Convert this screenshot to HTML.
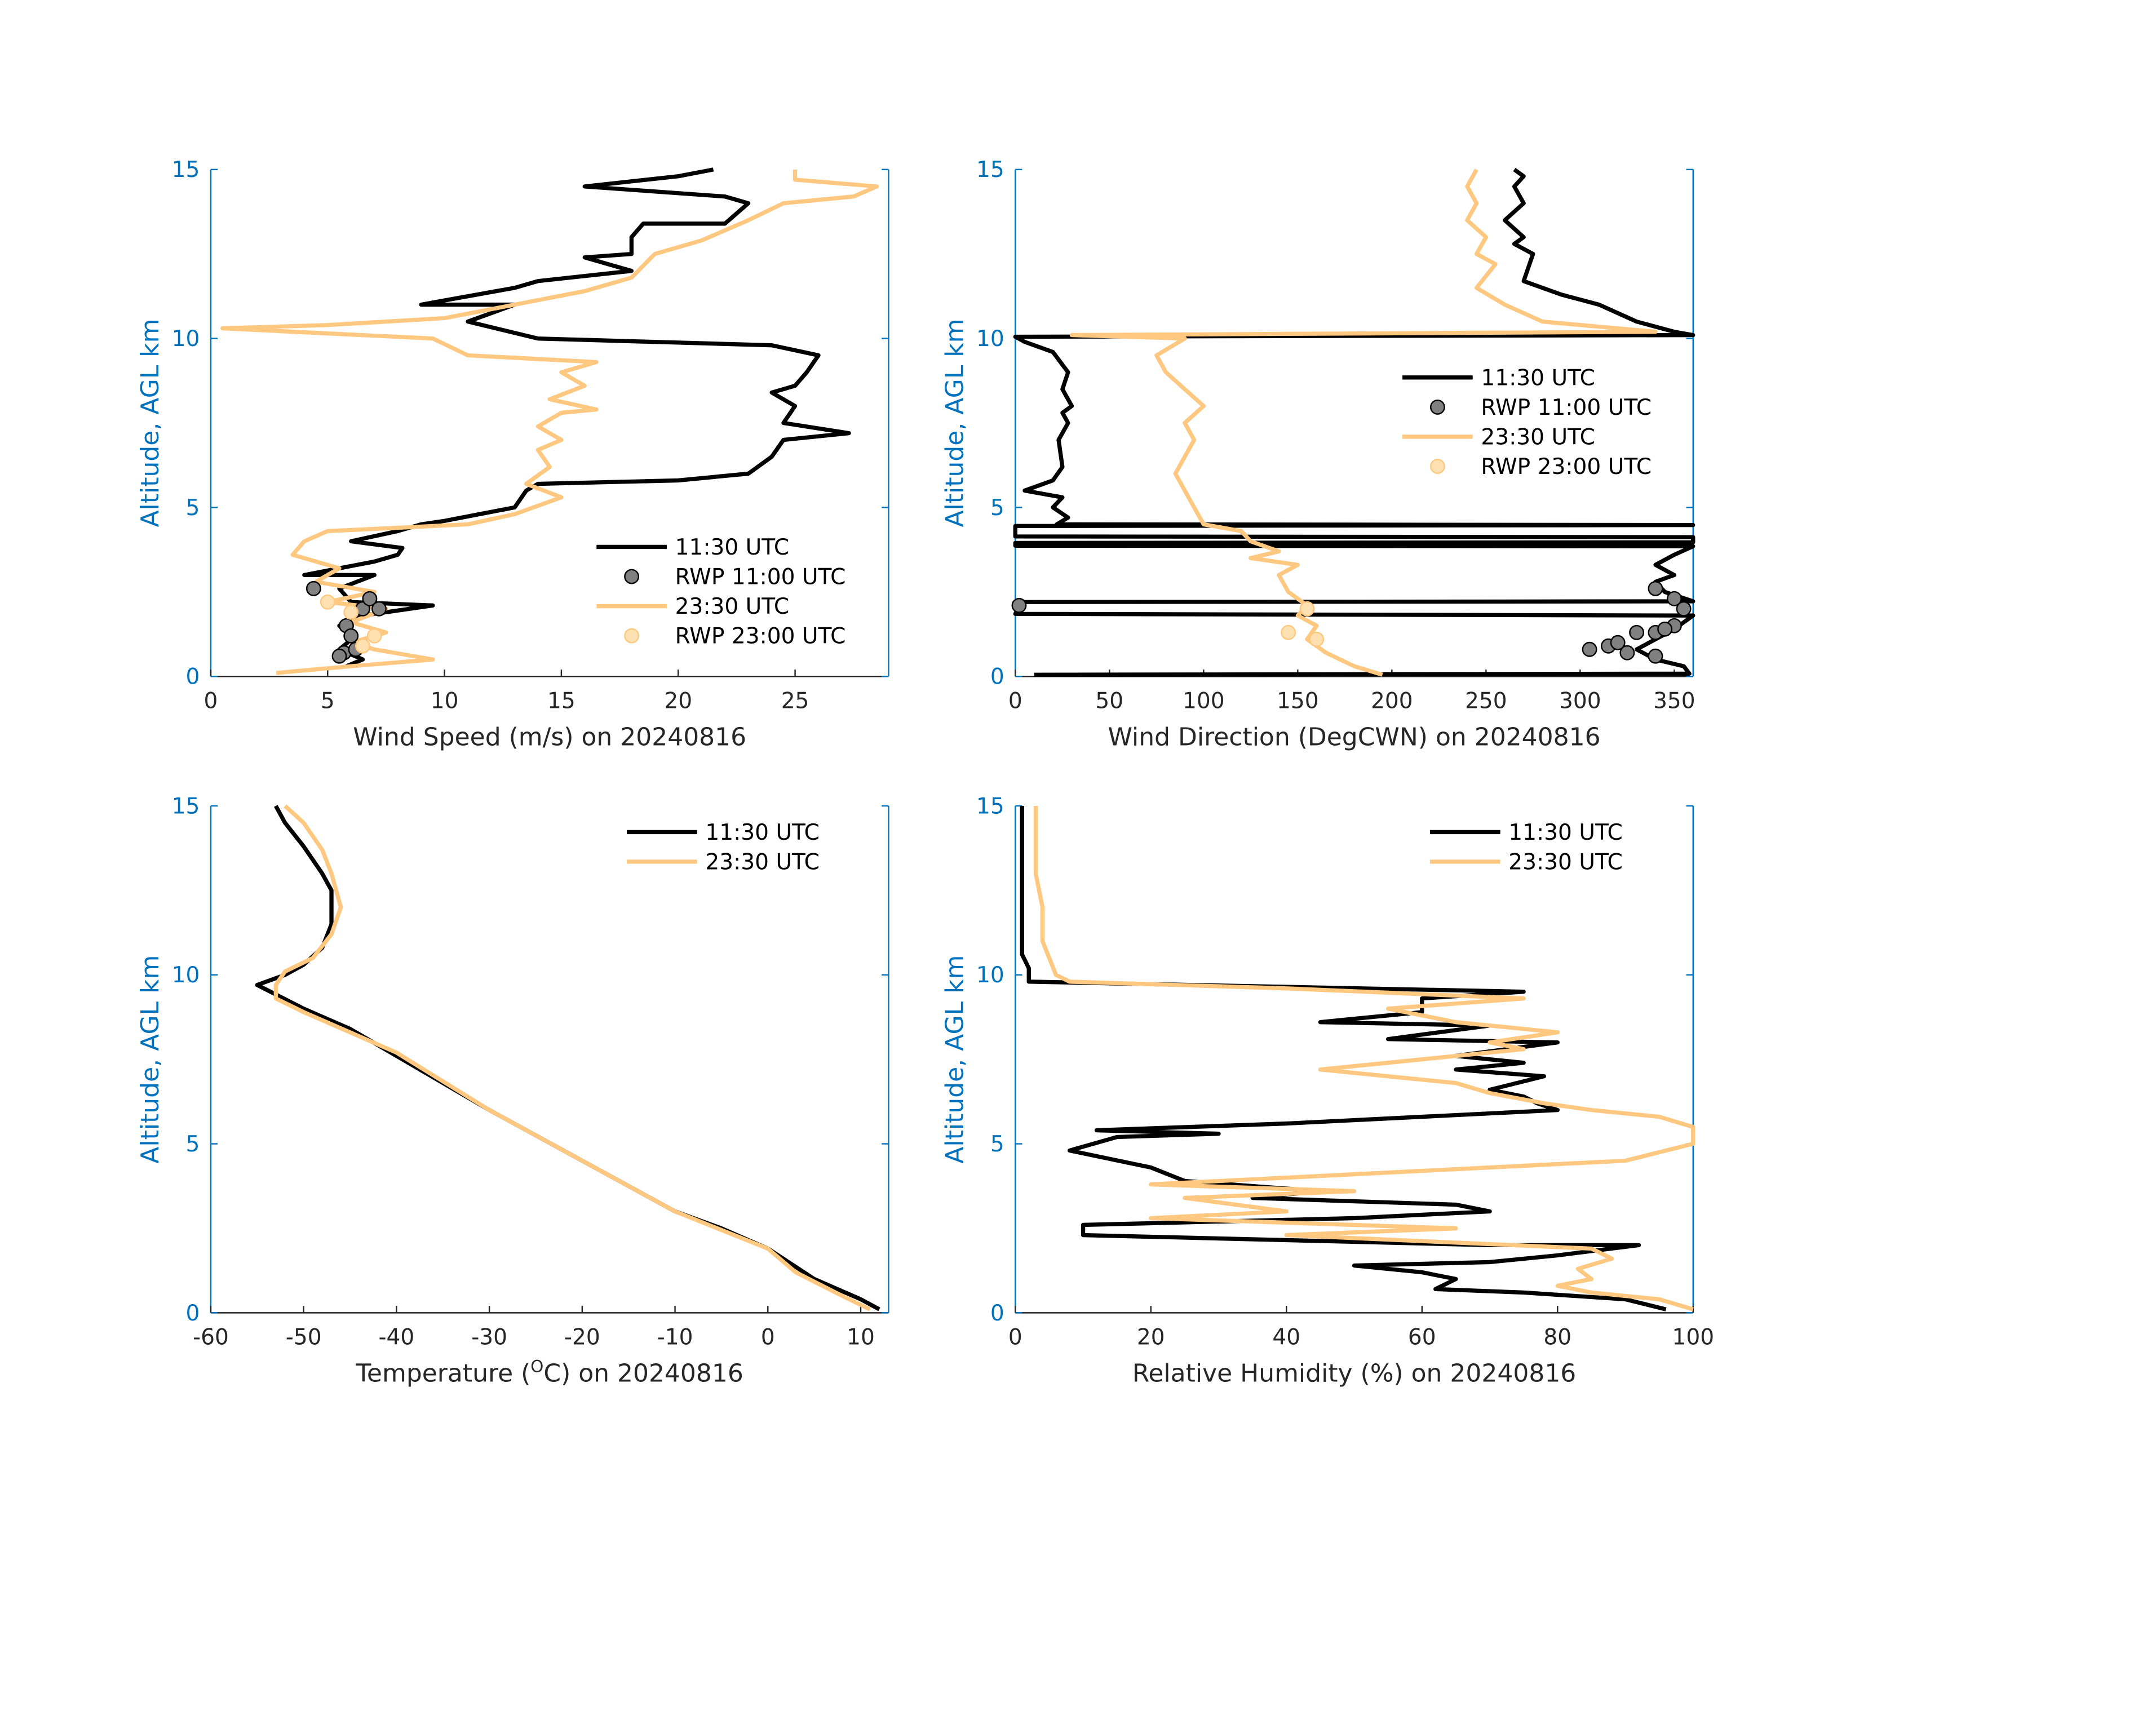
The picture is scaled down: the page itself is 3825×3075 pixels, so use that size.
<!DOCTYPE html>
<html><head><meta charset="utf-8"><style>
html,body{margin:0;padding:0;background:#fff}
svg{display:block}
text{font-family:"DejaVu Sans","Liberation Sans",sans-serif}
</style></head><body>
<svg id="fig" xmlns="http://www.w3.org/2000/svg" width="3825" height="3075" viewBox="0 0 1565 1258">
<rect width="1565" height="1258" fill="#fff"/>
</svg>
<script>
// ---------- data ----------
const wsBlackX=[5.8,6.5,5.5,6.2,5.5,6.5,9.5,6,5.5,7,4,5.5,7,8,8.2,6,8,9,10,13,13.5,14,20,23,24,24.5,27.3,24.5,25,24,25,25.5,26,24,14,11,13,9,13,14,18,16,18,18,18.5,22,23,22,16,20,21.5];
const wsBlackY=[0.3,0.5,0.8,1.2,1.5,1.8,2.1,2.2,2.6,3,3,3.2,3.4,3.6,3.8,4,4.3,4.5,4.6,5,5.5,5.7,5.8,6,6.5,7,7.2,7.5,8,8.4,8.6,9,9.5,9.8,10,10.5,11,11,11.5,11.7,12,12.4,12.5,13,13.4,13.4,14,14.2,14.5,14.8,15];
const wsOrX=[2.8,6,9.5,7,6,7.5,6,7.5,5,7,4.5,5.5,3.5,4,5,8,11,13,15,13.5,14.5,14,15,14,15,16.5,14.5,16,15,16.5,11,9.5,0.5,5,10,13,16,18,19,21,23,24.5,27.5,28.5,25,25];
const wsOrY=[0.1,0.3,0.5,0.8,1,1.3,1.6,2,2.2,2.5,2.8,3.2,3.6,4,4.3,4.4,4.5,4.8,5.3,5.7,6.2,6.7,7,7.4,7.8,7.9,8.2,8.6,9,9.3,9.5,10,10.3,10.4,10.6,11,11.4,11.8,12.5,12.9,13.5,14,14.2,14.5,14.7,15];
const rwp11wsX=[5.7,6.2,5.8,6.5,6.8,4.4,7.2,5.5,6];
const rwp11wsY=[0.7,0.8,1.5,2,2.3,2.6,2,0.6,1.2];
const rwp23wsX=[6.5,7,6,5];
const rwp23wsY=[0.9,1.2,1.9,2.2];

const wdBlackX=[10,358,355,340,330,340,350,360,0,2,0,360,345,340,350,340,350,360,0,0,360,360,0,0,360,22,28,20,25,5,20,25,23,28,25,30,25,28,20,5,0,360,350,330,310,290,270,275,265,270,260,270,265,270,265];
const wdBlackY=[0.05,0.08,0.3,0.5,0.8,1.1,1.4,1.8,1.85,2.05,2.2,2.22,2.5,2.8,3,3.3,3.6,3.85,3.87,3.95,3.97,4.12,4.14,4.45,4.48,4.5,4.7,5,5.3,5.5,5.8,6.2,7,7.5,7.8,8,8.5,9,9.6,9.9,10.05,10.1,10.2,10.5,11,11.3,11.7,12.5,12.8,13,13.5,14,14.5,14.8,15];
const wdOrX=[195,180,165,155,160,150,155,145,140,150,125,140,125,120,100,95,90,85,90,95,90,100,90,80,75,90,30,340,280,260,245,255,245,250,240,245,240,245];
const wdOrY=[0.05,0.3,0.7,1.1,1.5,1.8,2.1,2.5,3,3.3,3.5,3.7,4,4.3,4.5,5,5.5,6,6.5,7,7.5,8,8.5,9,9.5,10,10.1,10.2,10.5,11,11.5,12.2,12.5,13,13.5,14,14.5,15];
const rwp11wdX=[305,315,320,330,340,350,345,355,340,350,325,340,2];
const rwp11wdY=[0.8,0.9,1,1.3,1.3,1.5,1.4,2,2.6,2.3,0.7,0.6,2.1];
const rwp23wdX=[145,160,155];
const rwp23wdY=[1.3,1.1,2];

const tBlackX=[12,10,5,0,-5,-10,-20,-30,-40,-45,-50,-55,-52,-50,-48,-47,-47,-48,-50,-52,-53];
const tBlackY=[0.1,0.4,1,1.9,2.5,3,4.5,6,7.6,8.4,9,9.7,10,10.3,10.8,11.5,12.5,13,13.8,14.5,15];
const tOrX=[11,8,3,0,-10,-20,-30,-40,-50,-53,-53,-52,-49,-47,-46,-47,-48,-50,-52];
const tOrY=[0.1,0.5,1.2,1.9,3,4.5,6,7.7,8.9,9.3,9.7,10.1,10.5,11.2,12,13,13.7,14.5,15];

const rhBlackX=[96,90,75,62,65,60,50,70,80,92,70,10,10,50,70,65,35,45,25,20,8,15,30,12,40,60,80,77,75,70,78,65,75,65,80,55,70,45,60,60,75,2,2,1,1,1,1,1,1];
const rhBlackY=[0.1,0.4,0.6,0.7,1,1.2,1.4,1.5,1.7,2,2,2.3,2.6,2.8,3,3.2,3.4,3.6,3.9,4.3,4.8,5.2,5.3,5.4,5.6,5.8,6,6.2,6.4,6.6,7,7.2,7.4,7.6,8,8.1,8.5,8.6,8.9,9.3,9.5,9.8,10.2,10.6,11,12,13,14,15];
const rhOrX=[100,95,85,80,85,83,88,85,40,65,20,40,25,50,20,90,100,100,95,85,78,70,65,45,60,75,70,80,65,55,75,40,8,6,5,4,4,3,3];
const rhOrY=[0.1,0.4,0.6,0.8,1,1.3,1.6,1.9,2.3,2.5,2.8,3,3.4,3.6,3.8,4.5,5,5.5,5.8,6,6.2,6.5,6.8,7.2,7.5,7.8,8,8.3,8.6,9,9.3,9.6,9.8,10,10.5,11,12,13,15];

const yTicks=[0,5,10,15];
// ---------- drawing ----------
const NS="http://www.w3.org/2000/svg";
const svg=document.getElementById('fig');
const BLUE="#0072BD", ORANGE="#FFC880", FS=16;
function mk(tag,attrs,parent){const e=document.createElementNS(NS,tag);for(const k in attrs)e.setAttribute(k,attrs[k]);(parent||svg).appendChild(e);return e;}
function txt(s,attrs,parent){const e=mk('text',attrs,parent);e.textContent=s;return e;}

function panel(p){
  const g=mk('g',{});
  
  
  const sx=v=>p.x0+(v-p.xmin)/(p.xmax-p.xmin)*(p.x1-p.x0);
  const sy=v=>p.y1-(v/15)*(p.y1-p.y0);
  const la=mk('line',{x1:p.x0,y1:p.y0,x2:p.x0,y2:p.y1,stroke:BLUE,'stroke-width':1},g);
  
  const ra=mk('line',{x1:p.x1,y1:p.y0,x2:p.x1,y2:p.y1,stroke:BLUE,'stroke-width':1},g);
  
  const ba=mk('line',{x1:p.x0,y1:p.y1,x2:p.x1,y2:p.y1,stroke:'#262626','stroke-width':1},g);
  
  yTicks.forEach(t=>{
    mk('line',{x1:p.x0,y1:sy(t),x2:p.x0+5,y2:sy(t),stroke:BLUE},g);
    mk('line',{x1:p.x1,y1:sy(t),x2:p.x1-5,y2:sy(t),stroke:BLUE},g);
    const l=txt(String(t),{x:p.x0-8,y:sy(t)+5.5,'text-anchor':'end','font-size':FS,fill:BLUE},g);
    
  });
  p.xt.forEach(t=>{
    mk('line',{x1:sx(t),y1:p.y1,x2:sx(t),y2:p.y1-5,stroke:'#262626'},g);
    const l=txt(String(t),{x:sx(t),y:p.y1+23,'text-anchor':'middle','font-size':FS,fill:'#262626'},g);
    
  });
  const xl=txt('',{x:(p.x0+p.x1)/2,y:p.y1+50,'text-anchor':'middle','font-size':18,fill:'#262626'},g);
  xl.innerHTML=p.xlabel;
  
  const cy=(p.y0+p.y1)/2;
  const yl=txt('Altitude, AGL km',{x:p.x0-38,y:cy,'text-anchor':'middle','font-size':18,fill:BLUE,transform:`rotate(-90 ${p.x0-38} ${cy})`},g);
  
  p.series.forEach(s=>{
    if(s.type==='line'){
      const d=s.x.map((v,i)=>(i?'L':'M')+sx(v).toFixed(1)+' '+sy(s.y[i]).toFixed(1)).join(' ');
      const path=mk('path',{d:d,fill:'none',stroke:s.c,'stroke-width':3,'stroke-linejoin':'round'},g);
      
    } else {
      s.x.forEach((v,i)=>{
        const c=mk('circle',{cx:sx(v),cy:sy(s.y[i]),r:5,fill:s.c,stroke:s.ec,'stroke-width':1},g);
        
      });
    }
  });
  const lg=mk('g',{},g);
  
  p.legend.forEach((e,i)=>{
    const y=p.ly+i*21.5;
    const eg=mk('g',{},lg);
    
    if(e.type==='line') mk('line',{x1:p.lx,y1:y,x2:p.lx+51,y2:y,stroke:e.c,'stroke-width':3},eg);
    else mk('circle',{cx:p.lx+25.5,cy:y,r:5,fill:e.c,stroke:e.ec},eg);
    txt(e.t,{x:p.lx+57,y:y+5.5,'font-size':FS,fill:'#000'},eg);
  });
}
const L=[{type:'line',c:'#000',t:'11:30 UTC'},{type:'dot',c:'#808080',ec:'#000',t:'RWP 11:00 UTC'},{type:'line',c:ORANGE,t:'23:30 UTC'},{type:'dot',c:'#FFE0B0',ec:ORANGE,t:'RWP 23:00 UTC'}];
const L2=[L[0],L[2]];
panel({name:'wind-speed-panel',x0:153,x1:645,y0:123,y1:491,xmin:0,xmax:29,xt:[0,5,10,15,20,25],
  xlabel:'Wind Speed (m/s) on 20240816',lx:433,ly:397,legend:L,
  series:[{type:'line',x:wsBlackX,y:wsBlackY,c:'#000',name:'ws-1130-line'},
          {type:'line',x:wsOrX,y:wsOrY,c:ORANGE,name:'ws-2330-line'},
          {type:'dot',x:rwp11wsX,y:rwp11wsY,c:'#808080',ec:'#000',name:'rwp-1100-point'},
          {type:'dot',x:rwp23wsX,y:rwp23wsY,c:'#FFE0B0',ec:ORANGE,name:'rwp-2300-point'}]});
panel({name:'wind-direction-panel',x0:737,x1:1229,y0:123,y1:491,xmin:0,xmax:360,xt:[0,50,100,150,200,250,300,350],
  xlabel:'Wind Direction (DegCWN) on 20240816',lx:1018,ly:274,legend:L,
  series:[{type:'line',x:wdBlackX,y:wdBlackY,c:'#000',name:'wd-1130-line'},
          {type:'line',x:wdOrX,y:wdOrY,c:ORANGE,name:'wd-2330-line'},
          {type:'dot',x:rwp11wdX,y:rwp11wdY,c:'#808080',ec:'#000',name:'rwp-1100-point'},
          {type:'dot',x:rwp23wdX,y:rwp23wdY,c:'#FFE0B0',ec:ORANGE,name:'rwp-2300-point'}]});
panel({name:'temperature-panel',x0:153,x1:645,y0:585,y1:953,xmin:-60,xmax:13,xt:[-60,-50,-40,-30,-20,-10,0,10],
  xlabel:'Temperature (<tspan dy="-7" font-size="12">O</tspan><tspan dy="7">C) on 20240816</tspan>',lx:455,ly:604,legend:L2,
  series:[{type:'line',x:tBlackX,y:tBlackY,c:'#000',name:'temp-1130-line'},
          {type:'line',x:tOrX,y:tOrY,c:ORANGE,name:'temp-2330-line'}]});
panel({name:'humidity-panel',x0:737,x1:1229,y0:585,y1:953,xmin:0,xmax:100,xt:[0,20,40,60,80,100],
  xlabel:'Relative Humidity (%) on 20240816',lx:1038,ly:604,legend:L2,
  series:[{type:'line',x:rhBlackX,y:rhBlackY,c:'#000',name:'rh-1130-line'},
          {type:'line',x:rhOrX,y:rhOrY,c:ORANGE,name:'rh-2330-line'}]});
</script>
</body></html>
